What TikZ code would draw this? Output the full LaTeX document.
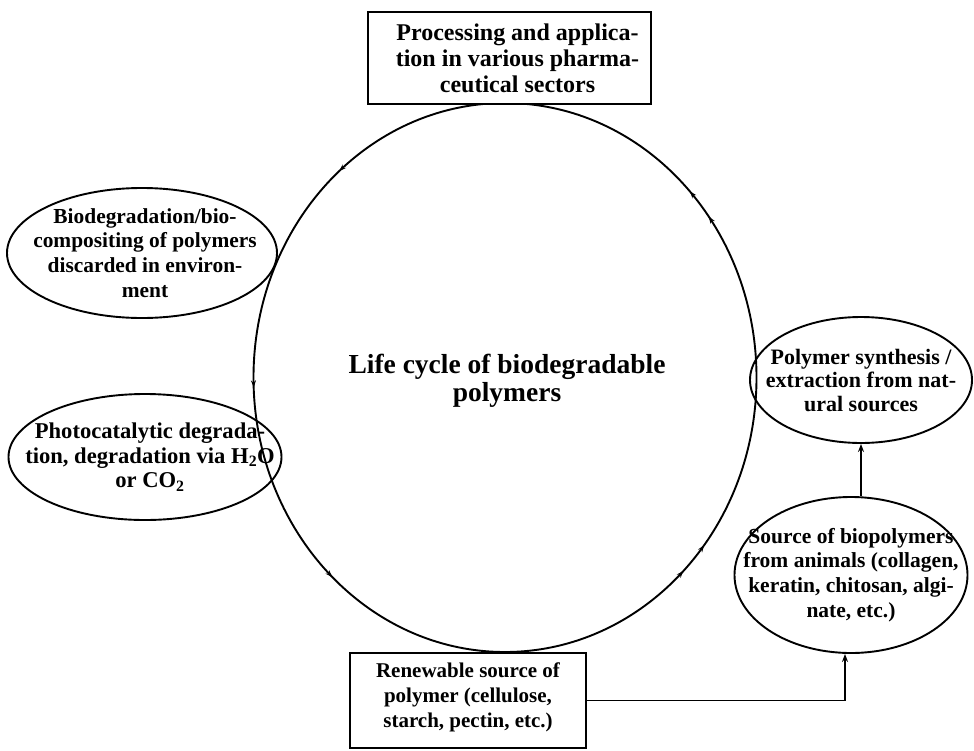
\documentclass[tikz,border=0pt]{standalone}
\usepackage{fontspec}
\setmainfont{Liberation Serif}
\usetikzlibrary{shapes.geometric,arrows.meta,decorations.markings}
\begin{document}
\begin{tikzpicture}[x=1pt,y=1pt,
  txt/.style={font=\bfseries\fontsize{22}{24.5}\selectfont, align=center, inner sep=0pt},
  boxst/.style={draw, line width=2pt, rectangle, inner sep=0pt},
  ell/.style={draw, ellipse, line width=1.9pt, inner sep=0pt},
  arr/.style={line width=1.9pt, -{Stealth[length=8pt,width=6pt]}},
  tip/.style={decoration={markings,
     mark=at position 0.103 with {\arrow{Stealth[length=7pt,width=5pt]}},
     mark=at position 0.122 with {\arrow{Stealth[length=7pt,width=5pt]}},
     mark=at position 0.361 with {\arrow{Stealth[length=7pt,width=5pt]}},
     mark=at position 0.506 with {\arrow{Stealth[length=7pt,width=5pt]}},
     mark=at position 0.633 with {\arrow{Stealth[length=7pt,width=5pt]}},
     mark=at position 0.872 with {\arrow{Stealth[length=7pt,width=5pt]}},
     mark=at position 0.892 with {\arrow{Stealth[length=7pt,width=5pt]}}},
     postaction={decorate}, line width=1.9pt}
]
\useasboundingbox (0,0) rectangle (974,-750);
% cycle
\coordinate (cc) at (505,-377.5);
\draw[tip] (cc) ellipse [x radius=251.5, y radius=274.5];
\node[txt, font=\bfseries\fontsize{27.5}{28.5}\selectfont] (life) at (507,-381) {Life cycle of biodegradable\\polymers};
% top box
\node[boxst, fill=white, minimum width=283, minimum height=92] (topbox) at (509.5,-58) {};
\node[txt, font=\bfseries\fontsize{24}{26}\selectfont] (toptext) at (517.5,-58) {Processing and applica-\\tion in various pharma-\\ceutical sectors};
% bottom box
\node[boxst, fill=white, minimum width=236, minimum height=95, label={[txt, font=\bfseries\fontsize{21}{25}\selectfont, yshift=3pt]center:{Renewable source of\\polymer (cellulose,\\starch, pectin, etc.)}}] (bot) at (468,-700.5) {};
% left ellipses
\node[ell, minimum width=270, minimum height=130, label={[txt, font=\bfseries\fontsize{21.4}{24.7}\selectfont, xshift=3pt]center:{Biodegradation/bio-\\compositing of polymers\\discarded in environ-\\ment}}] (bio) at (142,-253) {};
\node[ell, minimum width=273, minimum height=126, label={[txt, font=\bfseries\fontsize{22.6}{24.5}\selectfont, xshift=5pt]center:{Photocatalytic degrada-\\tion, degradation via H\textsubscript{2}O\\or CO\textsubscript{2}}}] (photo) at (145,-457) {};
% right ellipses
\node[ell, minimum width=222, minimum height=126, label={[txt, font=\bfseries\fontsize{22}{23.5}\selectfont]center:{Polymer synthesis /\\extraction from nat-\\ural sources}}] (poly) at (861,-380) {};
\node[ell, minimum width=233, minimum height=156, label={[txt, font=\bfseries\fontsize{21.5}{24.7}\selectfont]center:{Source of biopolymers\\from animals (collagen,\\keratin, chitosan, algi-\\nate, etc.)}}] (src) at (851,-575) {};
% connectors
\coordinate (k) at (845,-700.5);
\draw[arr] (bot.east) -- (k) -- (k |- src.south);
\draw[arr] (src.north -| poly.south) -- (poly.south);
\end{tikzpicture}
\end{document}
